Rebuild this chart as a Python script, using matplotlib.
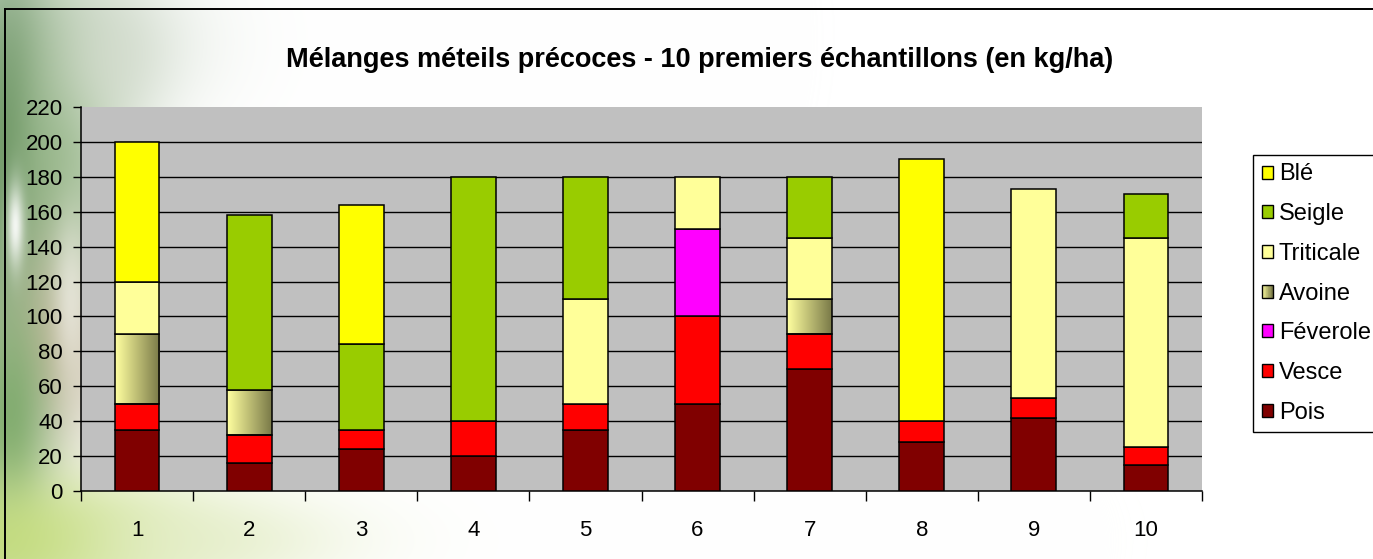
import numpy as np
import matplotlib
matplotlib.use("Agg")
import matplotlib.pyplot as plt
from matplotlib.patches import Rectangle, Patch
from matplotlib.legend_handler import HandlerBase
from matplotlib.lines import Line2D
from matplotlib.colors import to_rgb

plt.rcParams['font.family'] = ['Liberation Sans', 'DejaVu Sans']

# Seed-mix composition per sample (kg/ha), stacked bottom to top
samples = ['1', '2', '3', '4', '5', '6', '7', '8', '9', '10']
pois = [35, 16, 24, 20, 35, 50, 70, 28, 42, 15]
vesce = [15, 16, 11, 20, 15, 50, 20, 12, 11, 10]
feverole = [0, 0, 0, 0, 0, 50, 0, 0, 0, 0]
avoine = [40, 26, 0, 0, 0, 0, 20, 0, 0, 0]
triticale = [30, 0, 0, 0, 60, 30, 35, 0, 120, 120]
seigle = [0, 100, 49, 140, 70, 0, 35, 0, 0, 25]
ble = [80, 0, 80, 0, 0, 0, 0, 150, 0, 0]

series = [
    ('Pois', pois, '#800000'),
    ('Vesce', vesce, '#FF0000'),
    ('Féverole', feverole, '#FF00FF'),
    ('Avoine', avoine, None),
    ('Triticale', triticale, '#FFFF99'),
    ('Seigle', seigle, '#99CC00'),
    ('Blé', ble, '#FFFF00'),
]
oat_left, oat_right = np.array(to_rgb('#FFFFA0')), np.array(to_rgb('#7A7A48'))

W, H = 1373, 559
fig = plt.figure(figsize=(W / 100, H / 100), dpi=100)
fig.patch.set_facecolor('white')

# Soft photographic backdrop on the left side
yy, xx = np.mgrid[0:H, 0:W].astype(float)
img = np.ones((H, W, 3))
blobs = [
    # cx, cy, sx, sy, colour, strength
    (60, 40, 90, 60, '#C4D2C0', 0.7),
    (8, 160, 32, 150, '#5E8A58', 0.95),
    (60, 170, 45, 110, '#8DB07E', 0.8),
    (110, 60, 40, 50, '#D6DDD0', 0.6),
    (55, 350, 35, 70, '#C9B59C', 0.8),
    (10, 420, 30, 90, '#7AA868', 0.9),
    (40, 540, 110, 45, '#BCD86A', 0.9),
    (200, 540, 110, 35, '#E4EDC8', 0.7),
    (15, 225, 6, 30, '#FFFFFF', 0.9),
    (70, 300, 12, 60, '#F4F4EE', 0.6),
]
for cx, cy, sx, sy, col, s in blobs:
    a = s * np.exp(-((xx - cx) ** 2 / (2 * sx ** 2) + (yy - cy) ** 2 / (2 * sy ** 2)))
    img = img * (1 - a[..., None]) + np.array(to_rgb(col)) * a[..., None]
bg = fig.add_axes([0, 0, 1, 1], zorder=-10)
bg.imshow(img, extent=(0, W, H, 0), aspect='auto', interpolation='bilinear')
bg.set_xlim(0, W)
bg.set_ylim(H, 0)
bg.axis('off')

# Chart frame (top and left edges)
fig.add_artist(Line2D([5 / W, 5 / W], [0, 1 - 9 / H], color='black', lw=1.4))
fig.add_artist(Line2D([5 / W, 1], [1 - 9 / H, 1 - 9 / H], color='black', lw=1.4))

ax = fig.add_axes([81 / W, 1 - 491 / H, 1121 / W, 384 / H])
ax.set_facecolor('#C0C0C0')

x = np.arange(1, len(samples) + 1)
bottom = np.zeros(len(samples))
for name, vals, col in series:
    v = np.array(vals, dtype=float)
    m = v > 0
    if col is None:
        bars = ax.bar(x[m], v[m], bottom=bottom[m], width=0.4, facecolor='none',
                      edgecolor='black', linewidth=1.1, zorder=3)
        grad = np.linspace(0, 1, 64)[None, :, None]
        gimg = oat_left * (1 - grad) + oat_right * grad
        for p in bars.patches:
            x0, y0 = p.get_x(), p.get_y()
            im = ax.imshow(gimg, extent=(x0, x0 + p.get_width(), y0, y0 + p.get_height()),
                           aspect='auto', interpolation='bilinear', zorder=2.9)
            im.set_clip_path(p)
    else:
        ax.bar(x[m], v[m], bottom=bottom[m], width=0.4, color=col,
               edgecolor='black', linewidth=1.1, zorder=3)
    bottom += v

ax.set_xlim(0.5, len(samples) + 0.5)
ax.set_ylim(0, 220)
ax.set_yticks(np.arange(0, 221, 20))
ax.set_xticks(np.arange(0.5, len(samples) + 1, 1))
ax.set_xticklabels([])
ax.set_xticks(x, minor=True)
ax.set_xticklabels(samples, minor=True)
ax.tick_params(axis='x', which='major', direction='out', length=7, width=1, color='black')
ax.tick_params(axis='x', which='minor', length=0, pad=21, labelsize=16)
ax.tick_params(axis='y', direction='out', length=6, width=1, pad=7, labelsize=16)
ax.set_axisbelow(True)
ax.yaxis.grid(True, color='black', linewidth=1.0)
ax.get_ygridlines()[-1].set_visible(False)
ax.get_ygridlines()[0].set_visible(False)
for s in ('top', 'right'):
    ax.spines[s].set_visible(False)
for s in ('left', 'bottom'):
    ax.spines[s].set_linewidth(1.1)

fig.text(700 / W, 1 - 60 / H,
         'Mélanges méteils précoces - 10 premiers échantillons (en kg/ha)',
         ha='center', va='center', fontsize=19.5, fontweight='bold')


class GradientSquare(HandlerBase):
    def create_artists(self, legend, orig_handle, xdescent, ydescent,
                       width, height, fontsize, trans):
        n = 16
        arts = []
        for i in range(n):
            t = i / (n - 1)
            c = oat_left * (1 - t) + oat_right * t
            arts.append(Rectangle((-xdescent + i * width / n, -ydescent),
                                  width / n * 1.05, height, facecolor=c,
                                  edgecolor='none', transform=trans))
        arts.append(Rectangle((-xdescent, -ydescent), width, height,
                              facecolor='none', edgecolor='black', lw=1.0,
                              transform=trans))
        return arts


handles, labels, hmap = [], [], {}
for name, vals, col in reversed(series):
    if col is None:
        h = Patch(facecolor='#C0C080', edgecolor='black')
        hmap[h] = GradientSquare()
    else:
        h = Patch(facecolor=col, edgecolor='black', linewidth=1.0)
    handles.append(h)
    labels.append(name)

leg = fig.legend(handles, labels, handler_map=hmap, loc='upper left',
                 bbox_to_anchor=(1253 / W, 1 - 155 / H), borderaxespad=0,
                 fontsize=17, frameon=True, fancybox=False, edgecolor='black',
                 framealpha=1, handlelength=0.47, handleheight=0.47,
                 handletextpad=0.26, labelspacing=0.75, borderpad=0.36)
leg.get_frame().set_linewidth(1.0)

fig.savefig('out.png', dpi=100)
